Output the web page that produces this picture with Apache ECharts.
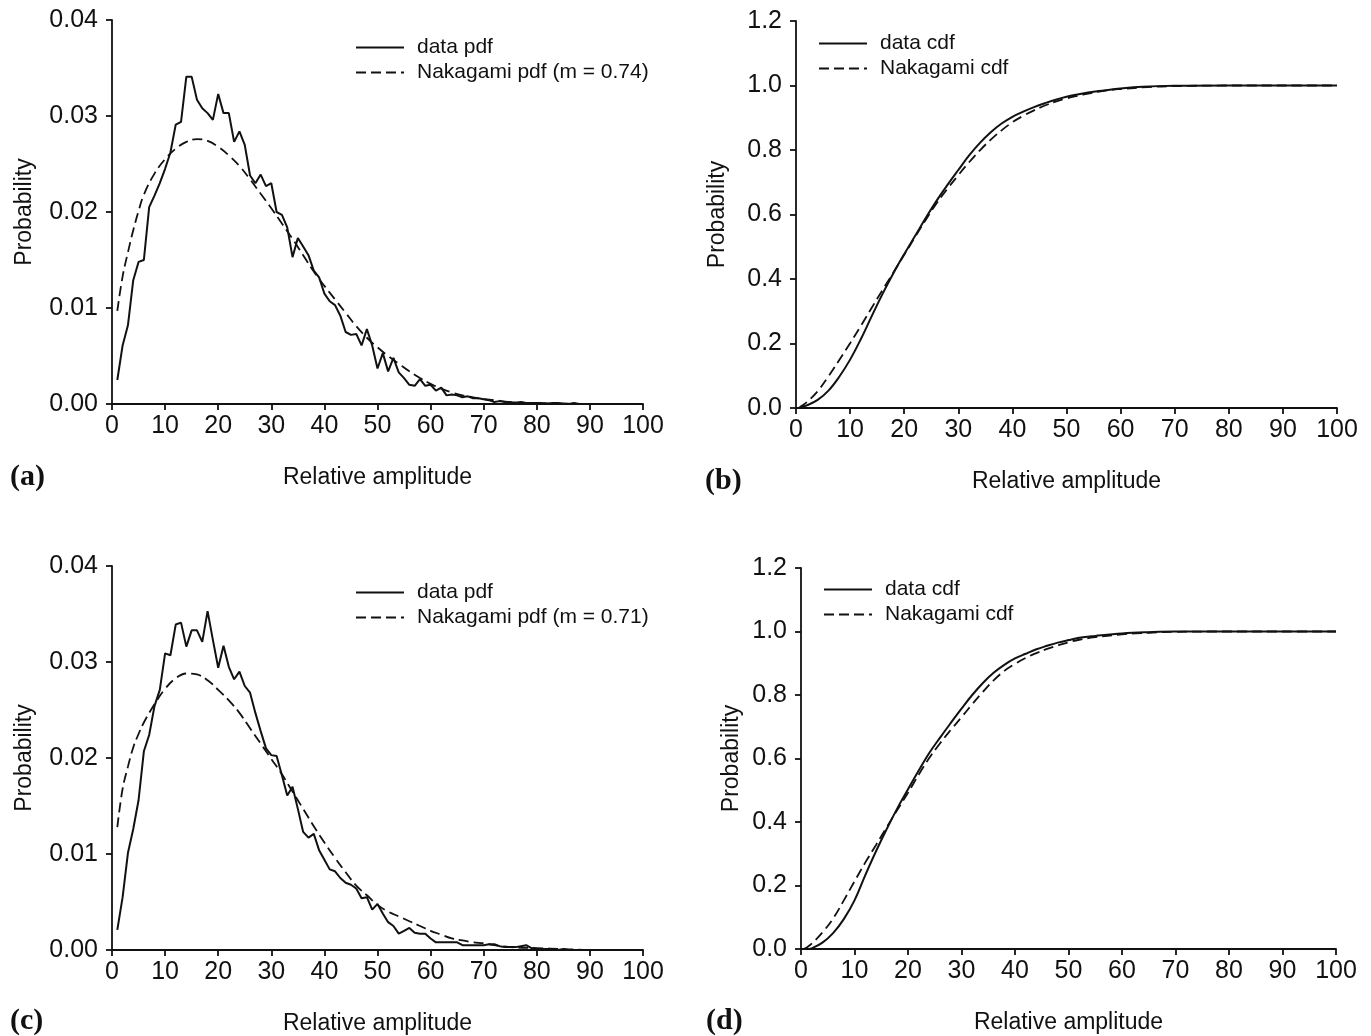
<!DOCTYPE html>
<html>
<head>
<meta charset="utf-8">
<title>Nakagami fit of relative amplitude</title>
<script src="https://cdn.jsdelivr.net/npm/echarts@6/dist/echarts.min.js"></script>
<style>
  html, body { margin: 0; padding: 0; background: #fff; }
  #chart { width: 1371px; height: 1036px; }
</style>
</head>
<body>
<div id="chart"></div>
<script>
// relative amplitude bins (x of the measured pdfs)
const amplitude = [
  1, 2, 3, 4, 5, 6, 7, 8, 9, 10, 11, 12, 13, 14, 15, 16, 17, 18, 19, 20,
  21, 22, 23, 24, 25, 26, 27, 28, 29, 30, 31, 32, 33, 34, 35, 36, 37, 38, 39, 40,
  41, 42, 43, 44, 45, 46, 47, 48, 49, 50, 51, 52, 53, 54, 55, 56, 57, 58, 59, 60,
  61, 62, 63, 64, 65, 66, 67, 68, 69, 70, 71, 72, 73, 74, 75, 76, 77, 78, 79, 80,
  81, 82, 83, 84, 85, 86, 87, 88, 89, 90, 91, 92, 93, 94, 95, 96, 97, 98, 99, 100
];

// (a) measured pdf
const dataPdfA = [
  0.0025, 0.0061, 0.0082, 0.0129, 0.0148, 0.0150, 0.0205, 0.0217, 0.0230, 0.0245,
  0.0262, 0.0291, 0.0294, 0.0341, 0.0341, 0.0317, 0.0308, 0.0303, 0.0296, 0.0323,
  0.0303, 0.0303, 0.0273, 0.0284, 0.0270, 0.0238, 0.0230, 0.0239, 0.0227, 0.0230,
  0.0200, 0.0197, 0.0184, 0.0153, 0.0173, 0.0164, 0.0155, 0.0139, 0.0132, 0.0115,
  0.0107, 0.0103, 0.0092, 0.0075, 0.0072, 0.0073, 0.0061, 0.0078, 0.0061, 0.0037,
  0.0053, 0.0034, 0.0048, 0.0033, 0.0027, 0.0020, 0.0019, 0.0026, 0.0019, 0.0020,
  0.0014, 0.0017, 0.0009, 0.0010, 0.0009, 0.0007, 0.0008, 0.0006, 0.0006, 0.0005,
  0.0004, 0.0002, 0.0003, 0.0002, 0.0002, 0.0001, 0.0002, 0.0001, 0.0001, 0.0001,
  0.0001, 0.0000, 0.0001, 0.0001, 0.0000, 0.0000, 0.0001, 0.0000, 0.0000, 0.0000,
  0.0000, 0.0000, 0.0000, 0.0000, 0.0000, 0.0000, 0.0000, 0.0000, 0.0000, 0.0000
];

// (c) measured pdf (ends near 86)
const dataPdfC = [
  0.0021, 0.0055, 0.0101, 0.0126, 0.0156, 0.0207, 0.0224, 0.0254, 0.0271, 0.0309,
  0.0307, 0.0339, 0.0341, 0.0316, 0.0333, 0.0333, 0.0321, 0.0353, 0.0323, 0.0294,
  0.0317, 0.0295, 0.0282, 0.0290, 0.0275, 0.0268, 0.0247, 0.0228, 0.0210, 0.0203,
  0.0202, 0.0182, 0.0161, 0.0170, 0.0147, 0.0123, 0.0117, 0.0121, 0.0104, 0.0094,
  0.0084, 0.0082, 0.0075, 0.0070, 0.0068, 0.0064, 0.0054, 0.0055, 0.0042, 0.0048,
  0.0038, 0.0029, 0.0025, 0.0017, 0.0020, 0.0023, 0.0018, 0.0017, 0.0017, 0.0012,
  0.0008, 0.0008, 0.0008, 0.0008, 0.0008, 0.0005, 0.0005, 0.0005, 0.0005, 0.0005,
  0.0006, 0.0006, 0.0004, 0.0003, 0.0003, 0.0003, 0.0004, 0.0005, 0.0002, 0.0001,
  0.0001, 0.0001, 0.0001, 0.0000, 0.0001, 0.0000
];

// fitted Nakagami pdfs
const nakPdfX = [
  1, 2, 3, 4, 5, 6, 8, 10, 12, 14, 16, 18, 20, 22, 24, 26, 28, 30, 32, 34, 36, 38, 40,
  42, 44, 46, 48, 50, 52, 54, 56, 58, 60, 62, 64, 66, 68, 70, 72, 75, 80, 85, 90, 95, 100
];
const nakPdfA = [
  0.0097, 0.0133, 0.0158, 0.0181, 0.0201, 0.0218, 0.0240, 0.0255, 0.0266, 0.0273, 0.0276,
  0.0274, 0.0268, 0.0259, 0.0248, 0.0234, 0.0219, 0.0204, 0.0188, 0.0172, 0.0155, 0.0138,
  0.0123, 0.0109, 0.0095, 0.0081, 0.0069, 0.0059, 0.0050, 0.0042, 0.0034, 0.0027, 0.0021,
  0.0016, 0.0012, 0.0009, 0.0007, 0.0005, 0.0004, 0.0002, 0.0001, 0.00005, 0, 0, 0
];
const nakPdfC = [
  0.0128, 0.0168, 0.0191, 0.0211, 0.0225, 0.0237, 0.0256, 0.0272, 0.0283, 0.0288, 0.0287,
  0.0281, 0.0271, 0.0260, 0.0247, 0.0231, 0.0215, 0.0199, 0.0183, 0.0165, 0.0147, 0.0129,
  0.0112, 0.0096, 0.0081, 0.0067, 0.0057, 0.0047, 0.0040, 0.0035, 0.0030, 0.0025, 0.0020,
  0.0016, 0.0012, 0.0010, 0.0008, 0.0007, 0.0005, 0.0003, 0.0002, 0.0001, 0, 0, 0
];

// (b) cdfs
const dataCdfXB = [1, 2, 4, 6, 8, 10, 12, 14, 16, 18, 20, 22, 24, 26, 28, 30, 32, 34, 36, 38,
  40, 42, 44, 46, 48, 50, 52, 54, 56, 58, 60, 64, 70, 80, 90, 100];
const dataCdfB = [0.003, 0.008, 0.025, 0.054, 0.097, 0.150, 0.214, 0.285, 0.354, 0.418,
  0.477, 0.533, 0.590, 0.643, 0.692, 0.738, 0.783, 0.822, 0.855, 0.882,
  0.903, 0.919, 0.933, 0.945, 0.956, 0.965, 0.972, 0.978, 0.983, 0.987, 0.991, 0.996, 0.999, 1.0, 1.0, 1.0];
const nakCdfXB = [0.5, 1, 2, 4, 6, 8, 10, 12, 14, 16, 18, 20, 22, 24, 26, 28, 30, 32, 34, 36, 38,
  40, 42, 44, 46, 48, 50, 52, 54, 56, 58, 60, 65, 70, 80, 90, 100];
const nakCdfB = [0, 0.006, 0.018, 0.052, 0.098, 0.149, 0.201, 0.255, 0.311, 0.366, 0.420,
  0.475, 0.530, 0.584, 0.635, 0.680, 0.722, 0.762, 0.799, 0.832, 0.861,
  0.886, 0.906, 0.923, 0.938, 0.950, 0.960, 0.968, 0.975, 0.981, 0.986, 0.989, 0.995, 0.998, 1.0, 1.0, 1.0];

// (d) cdfs
const dataCdfXD = [1.5, 2, 4, 6, 8, 10, 12, 14, 16, 18, 20, 22, 24, 26, 28, 30, 32, 34, 36, 38,
  40, 42, 44, 46, 48, 50, 52, 55, 60, 65, 70, 80, 90, 100];
const dataCdfD = [0, 0.002, 0.020, 0.050, 0.094, 0.153, 0.232, 0.307, 0.377, 0.443,
  0.503, 0.562, 0.618, 0.666, 0.712, 0.757, 0.800, 0.838, 0.870, 0.895,
  0.915, 0.930, 0.944, 0.955, 0.965, 0.973, 0.980, 0.986, 0.994, 0.998, 1.0, 1.0, 1.0, 1.0];
const nakCdfXD = [0.5, 1, 2, 4, 6, 8, 10, 12, 14, 16, 18, 20, 22, 24, 26, 28, 30, 32, 34, 36, 38,
  40, 42, 44, 46, 48, 50, 52, 55, 60, 65, 70, 80, 90, 100];
const nakCdfD = [0, 0.004, 0.017, 0.052, 0.096, 0.153, 0.213, 0.272, 0.327, 0.383, 0.438,
  0.492, 0.549, 0.602, 0.648, 0.690, 0.730, 0.771, 0.810, 0.846, 0.876,
  0.898, 0.917, 0.932, 0.945, 0.956, 0.966, 0.974, 0.982, 0.991, 0.996, 0.999, 1.0, 1.0, 1.0];

const pdfTicks = [0, 0.04, 0.01];   // min, max, step
const cdfTicks = [0, 1.2, 0.2];

const zip = (xs, ys) => ys.map((y, i) => [xs[i], y]);

const INK = '#111';
const FONT = '"Liberation Sans", Arial, sans-serif';

function xAxis(grid) {
  return {
    type: 'value', gridIndex: grid, min: 0, max: 100, interval: 10,
    name: 'Relative amplitude', nameLocation: 'middle', nameGap: 62,
    nameTextStyle: { fontFamily: FONT, fontSize: 23, color: INK },
    axisLine: { show: true, lineStyle: { color: INK, width: 1.8 } },
    axisTick: { show: true, length: 6, lineStyle: { color: INK, width: 1.8 } },
    axisLabel: { fontFamily: FONT, fontSize: 25, color: INK, margin: 10 },
    splitLine: { show: false }
  };
}

function yAxis(grid, ticks, digits, gap) {
  return {
    type: 'value', gridIndex: grid, min: ticks[0], max: ticks[1], interval: ticks[2],
    name: 'Probability', nameLocation: 'middle', nameGap: gap,
    nameTextStyle: { fontFamily: FONT, fontSize: 23, color: INK },
    axisLine: { show: true, lineStyle: { color: INK, width: 1.8 } },
    axisTick: { show: true, length: 6, lineStyle: { color: INK, width: 1.8 } },
    axisLabel: { fontFamily: FONT, fontSize: 25, color: INK, margin: 14,
      formatter: v => v.toFixed(digits) },
    splitLine: { show: false }
  };
}

function line(name, grid, data, dashed, smooth) {
  return {
    type: 'line', name: name, xAxisIndex: grid, yAxisIndex: grid,
    data: data, symbol: 'none', smooth: smooth,
    lineStyle: dashed ? { color: INK, width: 1.8, type: [10, 5] } : { color: INK, width: 2 },
    itemStyle: { color: INK }
  };
}

function legend(left, top, names) {
  return {
    left: left, top: top, orient: 'vertical', padding: 0,
    itemWidth: 48, itemHeight: 14, itemGap: 4,
    itemStyle: { opacity: 0 },   // line only, no marker
    data: names,
    textStyle: { fontFamily: FONT, fontSize: 21, color: INK, padding: [0, 0, 0, 8] }
  };
}

function letter(text, left, top) {
  return {
    type: 'text', left: left, top: top,
    style: { text: text, font: 'bold 30px "Liberation Serif", "Times New Roman", serif', fill: INK }
  };
}

const chart = echarts.init(document.getElementById('chart'));
const option = {
  animation: false,
  backgroundColor: '#fff',
  grid: [
    { left: 112, top: 20, width: 531, height: 384 },
    { left: 796, top: 21, width: 541, height: 387 },
    { left: 112, top: 566, width: 531, height: 384 },
    { left: 801, top: 568, width: 535, height: 381 }
  ],
  xAxis: [xAxis(0), xAxis(1), xAxis(2), xAxis(3)],
  yAxis: [
    yAxis(0, pdfTicks, 2, 76),
    yAxis(1, cdfTicks, 1, 67),
    yAxis(2, pdfTicks, 2, 76),
    yAxis(3, cdfTicks, 1, 58)
  ],
  legend: [
    legend(355, 37, ['data pdf', 'Nakagami pdf (m = 0.74)']),
    legend(818, 33, ['data cdf', 'Nakagami cdf']),
    legend(355, 582, ['data pdf', 'Nakagami pdf (m = 0.71)']),
    legend(823, 579, ['data cdf', 'Nakagami cdf'])
  ],
  graphic: [
    letter('(a)', 10, 462),
    letter('(b)', 705, 466),
    letter('(c)', 10, 1006),
    letter('(d)', 706, 1006)
  ],
  series: [
    line('data pdf', 0, zip(amplitude, dataPdfA), false, false),
    line('Nakagami pdf (m = 0.74)', 0, zip(nakPdfX, nakPdfA), true, 0.4),
    line('data cdf', 1, zip(dataCdfXB, dataCdfB), false, 0.4),
    line('Nakagami cdf', 1, zip(nakCdfXB, nakCdfB), true, 0.4),
    line('data pdf', 2, zip(amplitude, dataPdfC), false, false),
    line('Nakagami pdf (m = 0.71)', 2, zip(nakPdfX, nakPdfC), true, 0.4),
    line('data cdf', 3, zip(dataCdfXD, dataCdfD), false, 0.4),
    line('Nakagami cdf', 3, zip(nakCdfXD, nakCdfD), true, 0.4)
  ]
};
chart.setOption(option);
</script>
</body>
</html>
